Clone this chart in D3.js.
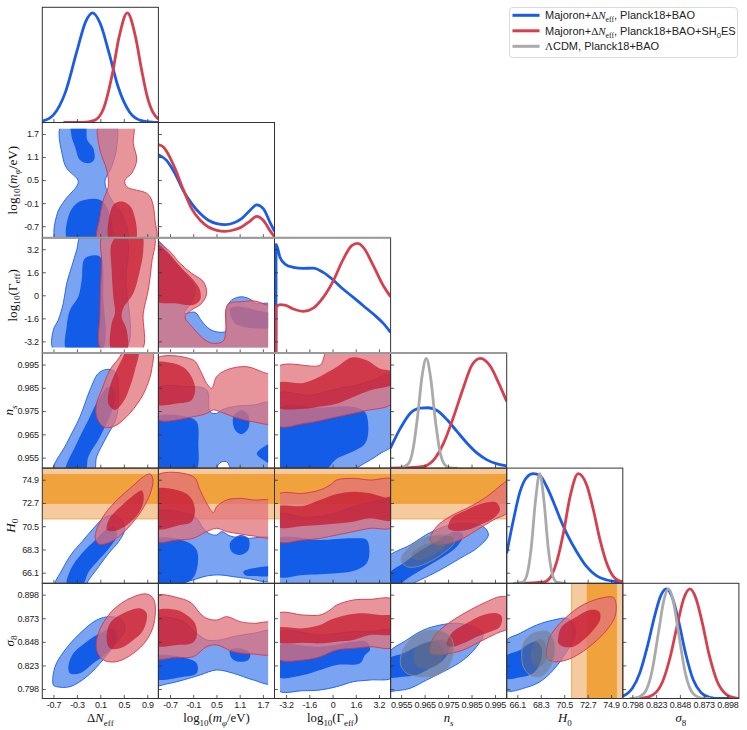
<!DOCTYPE html>
<html>
<head>
<meta charset="utf-8">
<script src="https://cdn.jsdelivr.net/npm/d3@7"></script>
<style>
	body { margin: 0; background: #fff; }
</style>
</head>
<body>
<div id="my_dataviz"></div>
<script>
// ---------------- parameters, ranges and ticks ----------------
const ranges = [[-0.89, 1.09], [-1, 2], [-4, 4], [0.9505, 1.0], [65.1, 76.0], [0.788, 0.91]];
// prior edges, the filled contours stop there
const priors = [[-0.89, 1.09], [-1, 1.835], [-3.62, 4], [0.9505, 1.0], [65.1, 76.0], [0.788, 0.91]];
const tickLabels = [
	["-0.7", "-0.3", "0.1", "0.5", "0.9"],
	["-0.7", "-0.1", "0.5", "1.1", "1.7"],
	["-3.2", "-1.6", "0", "1.6", "3.2"],
	["0.955", "0.965", "0.975", "0.985", "0.995"],
	["66.1", "68.3", "70.5", "72.7", "74.9"],
	["0.798", "0.823", "0.848", "0.873", "0.898"],
];
// SH0ES H0 bands (1 sigma, 2 sigma)
const shoes68 = [72.61, 75.45];
const shoes95 = [71.19, 76.87];

// ---------------- 1D marginals (x, normalised density) ----------------
const blue1D_DN = [[-0.89, 0.012], [-0.7, 0.069], [-0.5, 0.27], [-0.3, 0.65], [-0.15, 0.92], [-0.03, 1.0], [0.1, 0.9], [0.25, 0.63], [0.4, 0.33], [0.6, 0.094], [0.8, 0.017], [1.0, 0.002], [1.09, 0]];
const red1D_DN = [[-0.53, 0], [-0.2, 0.001], [0.0, 0.02], [0.15, 0.12], [0.3, 0.43], [0.42, 0.78], [0.56, 1.0], [0.7, 0.78], [0.8, 0.49], [0.9, 0.236], [1.0, 0.089], [1.09, 0.03]];
const blue1D_logm = [[-1.0, 0.757], [-0.79, 0.705], [-0.57, 0.584], [-0.36, 0.432], [-0.14, 0.311], [0.08, 0.22], [0.29, 0.159], [0.51, 0.128], [0.72, 0.119], [0.94, 0.134], [1.15, 0.174], [1.37, 0.25], [1.54, 0.3], [1.71, 0.265], [1.88, 0.143], [2.0, 0.058]];
const red1D_logm = [[-1.0, 0.849], [-0.87, 0.827], [-0.79, 0.787], [-0.57, 0.63], [-0.36, 0.441], [-0.14, 0.265], [0.08, 0.159], [0.29, 0.098], [0.51, 0.067], [0.72, 0.058], [0.94, 0.07], [1.15, 0.098], [1.37, 0.152], [1.54, 0.195], [1.71, 0.159], [1.88, 0.067], [2.0, 0.006]];
const blue1D_G = [[-3.9, 0], [-3.89, 0.99], [-3.62, 0.87], [-3.28, 0.81], [-2.7, 0.78], [-2.01, 0.77], [-1.33, 0.773], [-0.64, 0.734], [0.05, 0.664], [0.74, 0.58], [1.43, 0.506], [2.12, 0.43], [2.81, 0.354], [3.5, 0.269], [4.0, 0.187]];
const red1D_G = [[-3.9, 0], [-3.89, 0.415], [-3.62, 0.44], [-3.28, 0.436], [-2.7, 0.4], [-2.01, 0.378], [-1.33, 0.408], [-0.64, 0.506], [0.05, 0.657], [0.74, 0.855], [1.32, 0.977], [1.71, 0.998], [2.12, 0.962], [2.81, 0.795], [3.5, 0.612], [4.0, 0.512]];
const blue1D_ns = [[0.9504, 0.181], [0.9547, 0.364], [0.9589, 0.5], [0.9632, 0.546], [0.9665, 0.55], [0.9703, 0.525], [0.9746, 0.44], [0.9788, 0.334], [0.9831, 0.227], [0.9874, 0.136], [0.9916, 0.075], [0.9959, 0.038], [1.0, 0.02]];
const red1D_ns = [[0.9505, 0], [0.9589, 0.003], [0.9646, 0.015], [0.9689, 0.075], [0.9731, 0.227], [0.9774, 0.47], [0.9817, 0.744], [0.9852, 0.94], [0.9888, 1.0], [0.9931, 0.926], [0.9966, 0.774], [1.0, 0.607]];
const gray1D_ns = [[0.9545, 0], [0.958, 0.037], [0.96, 0.164], [0.962, 0.47], [0.964, 0.85], [0.9657, 1.0], [0.9675, 0.835], [0.9695, 0.45], [0.9715, 0.155], [0.9735, 0.034], [0.976, 0.002], [0.979, 0]];
const blue1D_H0 = [[65.1, 0.273], [65.73, 0.577], [66.35, 0.835], [66.98, 0.966], [67.6, 1.0], [68.23, 0.98], [68.86, 0.88], [69.48, 0.744], [70.1, 0.592], [70.73, 0.456], [71.67, 0.288], [72.61, 0.151], [73.55, 0.067], [74.49, 0.03], [75.43, 0.015], [76.0, 0.01]];
const red1D_H0 = [[66.3, 0], [68.54, 0.01], [69.17, 0.05], [69.8, 0.197], [70.42, 0.456], [71.05, 0.79], [71.82, 1.0], [72.61, 0.896], [73.24, 0.668], [73.86, 0.395], [74.49, 0.182], [75.12, 0.06], [75.74, 0.02], [76.0, 0.012]];
const gray1D_H0 = [[65.7, 0], [66.6, 0.011], [67.0, 0.077], [67.4, 0.32], [67.8, 0.75], [68.2, 1.0], [68.6, 0.75], [69.0, 0.32], [69.4, 0.077], [69.8, 0.011], [70.7, 0]];
const blue1D_s8 = [[0.788, 0.02], [0.798, 0.093], [0.806, 0.236], [0.814, 0.48], [0.822, 0.77], [0.828, 0.94], [0.834, 1.0], [0.84, 0.92], [0.846, 0.73], [0.854, 0.41], [0.862, 0.17], [0.87, 0.056], [0.88, 0.009], [0.89, 0], [0.91, 0]];
const red1D_s8 = [[0.8, 0], [0.81, 0.005], [0.82, 0.035], [0.83, 0.158], [0.838, 0.385], [0.846, 0.7], [0.852, 0.91], [0.8586, 1.0], [0.865, 0.91], [0.871, 0.71], [0.879, 0.39], [0.887, 0.16], [0.897, 0.036], [0.905, 0.008], [0.91, 0]];
const gray1D_s8 = [[0.795, 0], [0.8, 0.0025], [0.81, 0.044], [0.818, 0.22], [0.826, 0.63], [0.831, 0.89], [0.836, 1.0], [0.841, 0.89], [0.846, 0.63], [0.854, 0.22], [0.862, 0.044], [0.872, 0.0025], [0.88, 0]];

// ---------------- 2D contours (x, y) per panel, 95% and 68% ----------------
const DN_logm = {
	b95: [[[-0.559, 1.95], [0.35, 1.95], [0.379, 1.37], [0.293, 0.849], [0.179, 0.458], [0.293, -0.018], [0.491, -0.453], [0.549, -1.1], [-0.644, -1.1], [-0.634, -0.365], [-0.503, -0.018], [-0.276, 0.458], [-0.474, 0.807], [-0.542, 1.109]]],
	b68: [[[-0.389, 1.95], [-0.162, 1.95], [-0.123, 1.544], [-0.02, 1.328], [-0.008, 1.023], [-0.106, 0.937], [-0.247, 1.023], [-0.332, 1.37], [-0.389, 1.63]],
		[[-0.447, -1.1], [-0.447, -0.453], [-0.303, -0.104], [-0.077, 0.008], [0.094, -0.018], [0.208, -0.193], [0.29, -1.1]]],
	r95: [[[0.082, 1.95], [0.094, 1.284], [0.208, 0.763], [0.235, 0.328], [0.15, -0.018], [0.094, -0.453], [0.065, -1.1], [1.032, -1.1], [1.032, -0.539], [0.975, -0.018], [0.89, 0.156], [0.549, 0.328], [0.52, 0.503], [0.634, 0.677], [0.72, 1.023], [0.662, 1.458], [0.651, 1.95]]],
	r68: [[[0.264, -1.1], [0.264, -0.365], [0.35, -0.104], [0.491, -0.063], [0.634, -0.234], [0.691, -1.1]]],
};
const DN_G = {
	b95: [[[-0.218, 4.2], [0.52, 4.2], [0.537, 1.063], [0.52, -3.8], [-0.69, -3.8], [-0.702, -2.41], [-0.617, -1.715], [-0.532, -0.556], [-0.474, 0.833], [-0.389, 1.986], [-0.303, 3.146]]],
	b68: [[[-0.162, 2.569], [0.094, 2.681], [0.15, -0.097], [0.123, -3.8], [-0.474, -3.8], [-0.474, -2.18], [-0.418, -1.021], [-0.276, -0.097], [-0.218, 1.063]]],
	r95: [[[0.15, 4.2], [1.003, 4.2], [0.975, 2.22], [0.917, 0.368], [0.832, -1.25], [0.805, -3.8], [0.123, -3.8], [0.094, -1.25], [0.123, 2.22]]],
	r68: [[[0.293, 3.611], [0.435, 4.2], [0.805, 4.2], [0.832, 3.146], [0.776, 1.757], [0.662, 0.139], [0.491, -0.903], [0.464, -1.53], [0.549, -2.41], [0.549, -3.8], [0.293, -3.8], [0.293, -1.946], [0.35, -1.25], [0.321, -0.097], [0.293, 1.757]]],
};
const DN_ns = {
	b95: [[[-0.702, 0.949], [-0.475, 0.9611], [-0.247, 0.9726], [-0.077, 0.9841], [0.065, 0.9912], [0.208, 0.9929], [0.35, 0.9919], [0.406, 0.9855], [0.378, 0.9726], [0.208, 0.964], [0.037, 0.9554], [-0.02, 0.949]]],
	b68: [[[-0.486, 0.949], [-0.304, 0.9611], [-0.105, 0.9712], [0.094, 0.9812], [0.236, 0.9855], [0.35, 0.9841], [0.321, 0.9769], [0.094, 0.964], [-0.105, 0.9554], [-0.162, 0.949]]],
	r95: [[[0.037, 0.9726], [0.037, 0.9783], [0.122, 0.9841], [0.264, 0.9927], [0.435, 0.9984], [0.5, 1.0015], [0.975, 1.0015], [0.975, 0.9927], [0.89, 0.9855], [0.776, 0.9798], [0.549, 0.9726], [0.321, 0.9683], [0.151, 0.9683]]],
	r68: [[[0.236, 0.9783], [0.264, 0.9855], [0.35, 0.9912], [0.492, 0.9984], [0.549, 1.0015], [0.747, 1.0015], [0.691, 0.9927], [0.605, 0.9855], [0.492, 0.979], [0.35, 0.9755]]],
};
const DN_H0 = {
	b95: [[[-0.668, 64.9], [-0.554, 66.36], [-0.384, 67.94], [-0.213, 69.04], [-0.043, 70.14], [0.156, 71.25], [0.327, 71.56], [0.469, 71.09], [0.514, 70.14], [0.412, 69.04], [0.242, 67.94], [0.071, 66.67], [-0.099, 65.41], [-0.156, 64.9]]],
	b68: [[[-0.469, 64.9], [-0.412, 66.36], [-0.213, 67.94], [0.014, 69.2], [0.185, 70.14], [0.327, 70.46], [0.384, 69.67], [0.27, 68.57], [0.071, 67.31], [-0.099, 66.2], [-0.213, 64.9]]],
	r95: [[[0.014, 69.36], [0.043, 70.3], [0.185, 71.72], [0.412, 73.14], [0.639, 74.24], [0.838, 75.19], [0.952, 75.44], [0.997, 74.87], [0.952, 73.61], [0.81, 72.04], [0.639, 70.77], [0.412, 69.51], [0.213, 68.88], [0.071, 68.82]]],
	r68: [[[0.213, 70.14], [0.242, 71.09], [0.412, 72.19], [0.639, 73.3], [0.81, 73.86], [0.838, 72.98], [0.753, 71.72], [0.554, 70.62], [0.355, 70.08]]],
};
const DN_s8 = {
	b95: [[[-0.702, 0.8023], [-0.673, 0.8217], [-0.503, 0.8394], [-0.247, 0.857], [0.037, 0.8711], [0.264, 0.8747], [0.463, 0.8711], [0.52, 0.8605], [0.321, 0.8429], [0.094, 0.8253], [-0.133, 0.8111], [-0.418, 0.8005], [-0.645, 0.8005]]],
	b68: [[[-0.446, 0.8217], [-0.361, 0.8358], [-0.133, 0.8482], [0.094, 0.857], [0.321, 0.8623], [0.378, 0.85], [0.208, 0.8358], [-0.02, 0.8253], [-0.247, 0.8147], [-0.418, 0.8147]]],
	r95: [[[0.037, 0.8394], [0.065, 0.857], [0.264, 0.8782], [0.549, 0.8923], [0.89, 0.8987], [1.015, 0.8923], [1.015, 0.8676], [0.89, 0.85], [0.662, 0.8358], [0.378, 0.827], [0.151, 0.8288]]],
	r68: [[[0.208, 0.85], [0.264, 0.8676], [0.492, 0.8782], [0.776, 0.8835], [0.89, 0.8782], [0.833, 0.8605], [0.662, 0.85], [0.435, 0.8411], [0.264, 0.8411]]],
};
const logm_G = {
	b95: [[[-1.1, 3.9], [-0.571, 2.34], [-0.227, 1.18], [-0.054, 0.48], [-0.14, -0.44], [-0.33, -1.25], [-0.054, -1.18], [0.118, -1.79], [0.333, -2.36], [0.592, -2.57], [0.738, -2.48], [0.764, -0.91], [0.893, -0.33], [1.152, -0.1], [1.41, -0.33], [1.496, -0.56], [1.95, -0.67], [1.95, -3.8], [-1.1, -3.8]]],
	b68: [[[0.85, -0.91], [1.152, -0.79], [1.496, -1.02], [1.95, -1.37], [1.95, -2.18], [1.324, -2.25], [0.979, -1.95], [0.876, -1.48]]],
	r95: [[[-1.1, 3.68], [-0.743, 3.15], [-0.442, 2.22], [-0.14, 1.53], [0.161, 0.95], [0.247, 0.14], [0.118, -0.56], [-0.14, -1.02], [-0.313, -1.48], [-0.097, -2.29], [0.204, -3.1], [0.42, -3.34], [0.678, -3.17], [0.738, -2.53], [0.747, -0.91], [0.824, -0.56], [1.152, -0.44], [1.496, -0.4], [1.798, -0.67], [1.95, -0.79], [1.95, -3.8], [-1.1, -3.8]]],
	r68: [[[-1.1, 3.61], [-0.743, 2.92], [-0.399, 1.87], [-0.097, 1.06], [0.075, 0.37], [0.075, -0.33], [-0.097, -0.67], [-0.571, -0.56], [-1.1, -0.33]]],
};
const logm_ns = {
	b95: [[[-1.1, 0.9841], [-0.27, 0.9855], [0.247, 0.9841], [0.333, 0.9747], [0.506, 0.974], [0.635, 0.9755], [0.936, 0.9769], [1.453, 0.9776], [1.95, 0.9783], [1.95, 0.949], [0.936, 0.949], [0.764, 0.9532], [0.592, 0.9528], [0.42, 0.949], [-1.1, 0.949]]],
	b68: [[[-1.1, 0.9719], [-0.27, 0.9726], [-0.011, 0.9704], [0.032, 0.9611], [-0.054, 0.949], [-1.1, 0.949]],
		[[0.936, 0.9726], [1.152, 0.9755], [1.324, 0.9733], [1.324, 0.9676], [1.152, 0.9651], [0.979, 0.9669]],
		[[1.95, 0.9611], [1.539, 0.9568], [1.711, 0.954], [1.95, 0.9525]]],
	r95: [[[-1.1, 0.9972], [-0.097, 0.9969], [0.075, 0.9927], [0.247, 0.9869], [0.376, 0.9848], [0.506, 0.9898], [0.764, 0.9927], [1.281, 0.9941], [1.797, 0.9912], [1.95, 0.9912], [1.95, 0.97], [1.453, 0.9704], [0.936, 0.9726], [0.592, 0.9747], [0.42, 0.9755], [0.247, 0.974], [-0.097, 0.9726], [-1.1, 0.9719]]],
	r68: [[[-1.1, 0.9955], [-0.614, 0.9955], [-0.27, 0.9927], [-0.054, 0.9855], [-0.14, 0.9798], [-0.528, 0.9783], [-1.1, 0.9783]]],
};
const logm_H0 = {
	b95: [[[-1.1, 71.72], [-0.27, 71.72], [-0.011, 71.25], [0.161, 70.3], [0.333, 69.77], [0.506, 69.67], [0.635, 69.99], [0.85, 69.58], [1.281, 69.36], [1.95, 69.27], [1.95, 65.41], [1.281, 65.57], [0.936, 65.73], [0.592, 65.89], [0.247, 65.79], [-0.27, 65.25], [-1.1, 64.9]]],
	b68: [[[-1.1, 69.2], [-0.27, 69.04], [-0.011, 68.25], [-0.011, 66.36], [-0.183, 65.35], [-1.1, 64.9]],
		[[0.85, 68.88], [1.109, 69.67], [1.324, 69.36], [1.324, 68.25], [1.109, 67.78], [0.893, 68.09]],
		[[1.195, 66.2], [1.453, 66.52], [1.95, 66.61], [1.95, 65.89], [1.453, 65.79], [1.238, 65.89]]],
	r95: [[[-1.1, 75.19], [-0.097, 75.19], [0.075, 73.93], [0.247, 72.67], [0.42, 71.78], [0.506, 72.35], [0.764, 72.98], [1.109, 73.14], [1.453, 72.98], [1.95, 72.82], [1.95, 69.51], [1.453, 69.58], [1.109, 69.77], [0.764, 69.99], [0.506, 70.3], [0.247, 69.99], [-0.097, 69.36], [-0.528, 69.2], [-1.1, 69.13]]],
	r68: [[[-1.1, 73.93], [-0.528, 73.93], [-0.183, 73.3], [-0.054, 72.04], [-0.14, 70.93], [-0.442, 70.62], [-1.1, 70.3]]],
};
const logm_s8 = {
	b95: [[[-1.1, 0.8711], [-0.442, 0.8711], [-0.011, 0.857], [0.247, 0.85], [0.592, 0.85], [0.936, 0.8535], [1.453, 0.857], [1.95, 0.8588], [1.95, 0.8041], [1.453, 0.8076], [0.936, 0.8147], [0.506, 0.8182], [0.075, 0.8129], [-0.356, 0.8076], [-0.786, 0.8034], [-1.1, 0.8023]]],
	b68: [[[-1.1, 0.8323], [-0.27, 0.8305], [-0.011, 0.8253], [-0.011, 0.8147], [-0.356, 0.8111], [-1.1, 0.8094]],
		[[0.85, 0.8394], [1.109, 0.8411], [1.367, 0.8358], [1.324, 0.8288], [1.065, 0.827], [0.893, 0.8305]]],
	r95: [[[-1.1, 0.8958], [-0.442, 0.8941], [-0.14, 0.8888], [0.075, 0.8782], [0.247, 0.8729], [0.506, 0.8711], [0.764, 0.8747], [1.109, 0.8694], [1.453, 0.8676], [1.95, 0.8676], [1.95, 0.8358], [1.453, 0.8351], [0.936, 0.8376], [0.506, 0.8447], [0.247, 0.8429], [-0.097, 0.8323], [-0.528, 0.8316], [-1.1, 0.8316]]],
	r68: [[[-1.1, 0.88], [-0.528, 0.8817], [-0.27, 0.8764], [-0.054, 0.8676], [-0.011, 0.8535], [-0.14, 0.8464], [-0.528, 0.8447], [-1.1, 0.8447]]],
};
const G_ns = {
	b95: [[[-3.8, 0.9822], [-1.553, 0.9818], [0.285, 0.9846], [1.663, 0.9861], [2.582, 0.9879], [4.2, 0.9904], [4.2, 0.961], [3.271, 0.9567], [2.352, 0.9531], [0.974, 0.949], [-3.8, 0.949]]],
	b68: [[[-3.8, 0.976], [-0.864, 0.9765], [1.433, 0.9768], [2.237, 0.9746], [2.467, 0.9667], [2.237, 0.961], [1.548, 0.9581], [0.285, 0.9545], [-0.635, 0.949], [-3.8, 0.949]]],
	r95: [[[-3.8, 0.9939], [-0.864, 0.9947], [-0.589, 0.9982], [-0.359, 1.0015], [4.2, 1.0015], [4.2, 0.9789], [2.122, 0.975], [0.285, 0.9725], [-2.013, 0.9696], [-3.8, 0.9689]]],
	r68: [[[-3.8, 0.9868], [-2.013, 0.9871], [-0.864, 0.9899], [0.285, 0.9939], [1.318, 0.998], [2.352, 0.9968], [3.271, 0.9932], [4.2, 0.9918], [4.2, 0.9868], [2.582, 0.9839], [1.433, 0.981], [0.285, 0.9782], [-0.864, 0.977], [-2.013, 0.976], [-3.8, 0.9768]]],
};
const G_H0 = {
	b95: [[[-3.8, 71.56], [-2.013, 71.34], [-0.635, 71.47], [0.285, 71.78], [1.433, 72.35], [2.582, 72.73], [4.2, 72.92], [4.2, 64.9], [-3.8, 64.9]]],
	b68: [[[-3.8, 69.26], [-0.864, 69.2], [1.433, 69.36], [2.352, 69.2], [2.536, 67.94], [2.352, 66.99], [1.663, 66.36], [0.285, 66.04], [-2.013, 65.89], [-3.8, 65.79]]],
	r95: [[[-3.8, 73.46], [-2.013, 73.61], [-0.864, 73.93], [-0.175, 74.4], [0.285, 74.87], [1.433, 75.03], [2.582, 74.87], [4.2, 74.87], [4.2, 70.46], [2.582, 70.3], [1.433, 69.99], [0.285, 69.67], [-0.864, 69.36], [-2.013, 69.2], [-3.8, 69.13]]],
	r68: [[[-3.8, 72.29], [-2.013, 72.41], [-0.864, 72.98], [0.285, 73.55], [1.433, 73.77], [2.582, 73.61], [3.616, 73.23], [4.2, 73.3], [4.2, 71.09], [2.582, 71.25], [1.433, 70.93], [0.285, 70.77], [-0.864, 70.62], [-2.013, 70.52], [-3.8, 70.46]]],
};
const G_s8 = {
	b95: [[[-3.8, 0.857], [-0.864, 0.8552], [0.285, 0.857], [1.433, 0.8588], [2.582, 0.859], [4.2, 0.859], [4.2, 0.8111], [2.582, 0.8076], [1.433, 0.8058], [0.285, 0.8005], [-0.864, 0.797], [-2.013, 0.7963], [-3.8, 0.797]]],
	b68: [[[-3.8, 0.8429], [-0.864, 0.8429], [1.433, 0.8482], [2.352, 0.8482], [2.582, 0.8394], [2.237, 0.8341], [1.893, 0.8253], [0.285, 0.8235], [-0.864, 0.8182], [-2.013, 0.8129], [-3.8, 0.8111]]],
	r95: [[[-3.8, 0.8775], [-2.013, 0.8764], [-0.864, 0.8764], [-0.175, 0.8817], [0.285, 0.887], [1.433, 0.8923], [2.582, 0.893], [4.2, 0.8923], [4.2, 0.8429], [2.582, 0.8429], [1.433, 0.8411], [0.285, 0.8394], [-0.864, 0.8323], [-2.013, 0.8288], [-3.8, 0.8305]]],
	r68: [[[-3.8, 0.8623], [-2.013, 0.8623], [-0.864, 0.8658], [-0.175, 0.8711], [0.974, 0.8764], [2.122, 0.8782], [3.271, 0.8764], [4.2, 0.8747], [4.2, 0.857], [2.582, 0.8552], [1.433, 0.85], [0.285, 0.8482], [-0.864, 0.8464], [-2.013, 0.8471], [-3.8, 0.8482]]],
};
const ns_H0 = {
	b95: [[[0.949, 67.46], [0.9588, 68.72], [0.9673, 69.89], [0.9758, 70.62], [0.9829, 70.77], [0.99, 70.46], [0.9922, 69.67], [0.9872, 68.41], [0.9801, 67.46], [0.9716, 66.36], [0.963, 65.41], [0.9574, 64.9], [0.949, 64.9]]],
	b68: [[[0.949, 65.89], [0.9559, 66.99], [0.9616, 67.94], [0.9687, 68.88], [0.9744, 69.67], [0.9787, 69.99], [0.9815, 69.67], [0.9787, 68.57], [0.973, 67.62], [0.9659, 66.67], [0.9588, 65.73], [0.9531, 64.9], [0.949, 64.9]]],
	r95: [[[0.9673, 69.2], [0.9701, 70.46], [0.9758, 71.41], [0.9844, 72.35], [0.9915, 73.3], [0.9986, 74.56], [1.0015, 75.03], [1.0015, 72.04], [0.9943, 71.09], [0.9872, 70.14], [0.9815, 69.36], [0.9758, 68.88], [0.9701, 68.72]]],
	r68: [[[0.9751, 70.3], [0.9765, 71.25], [0.9829, 72.04], [0.99, 72.67], [0.9957, 72.73], [0.9971, 72.04], [0.9943, 71.25], [0.9886, 70.62], [0.9829, 70.14], [0.9772, 70.08]]],
	g95: [[[0.9552, 67.62], [0.9588, 68.57], [0.9645, 69.36], [0.9716, 69.67], [0.9772, 69.51], [0.9775, 68.88], [0.973, 67.94], [0.9673, 67.15], [0.9616, 66.67], [0.9574, 66.67], [0.9552, 67.15]]],
	g68: [[[0.9595, 67.78], [0.963, 68.51], [0.9687, 68.95], [0.973, 69.04], [0.9737, 68.51], [0.9701, 67.94], [0.9645, 67.37], [0.9609, 67.31]]],
};
const ns_s8 = {
	b95: [[[0.949, 0.8341], [0.9574, 0.85], [0.9645, 0.8605], [0.9716, 0.8658], [0.9787, 0.8676], [0.9858, 0.8641], [0.99, 0.857], [0.9872, 0.8429], [0.9815, 0.8288], [0.9744, 0.8182], [0.9659, 0.8076], [0.9588, 0.7988], [0.9531, 0.7963], [0.949, 0.7963]]],
	b68: [[[0.949, 0.8288], [0.9559, 0.8358], [0.9616, 0.8429], [0.9673, 0.8482], [0.973, 0.85], [0.9758, 0.8429], [0.973, 0.8288], [0.9673, 0.82], [0.9616, 0.8129], [0.9559, 0.8111], [0.949, 0.8111]]],
	r95: [[[0.9673, 0.8429], [0.9701, 0.857], [0.9772, 0.8711], [0.9844, 0.8817], [0.9915, 0.8905], [0.9971, 0.8958], [1.0015, 0.8941], [1.0015, 0.8641], [0.9957, 0.857], [0.9886, 0.8482], [0.9815, 0.8394], [0.9758, 0.8358], [0.9701, 0.8341], [0.9676, 0.8358]]],
	r68: [[[0.9744, 0.8447], [0.9765, 0.857], [0.9829, 0.8676], [0.99, 0.8764], [0.9957, 0.8782], [0.9979, 0.8747], [0.9971, 0.8641], [0.9929, 0.8588], [0.9872, 0.8535], [0.9815, 0.8464], [0.9772, 0.8429]]],
	g95: [[[0.9552, 0.8358], [0.9588, 0.85], [0.9645, 0.8588], [0.9716, 0.8598], [0.9765, 0.8517], [0.9772, 0.8358], [0.9751, 0.8217], [0.9701, 0.8129], [0.9637, 0.8111], [0.9574, 0.8147], [0.9548, 0.8235]]],
	g68: [[[0.9602, 0.8288], [0.9616, 0.8429], [0.9659, 0.8482], [0.9708, 0.8471], [0.973, 0.8376], [0.9716, 0.8253], [0.9673, 0.82], [0.9623, 0.821]]],
};
const H0_s8 = {
	b95: [[[65.0, 0.8482], [66.35, 0.857], [67.91, 0.8658], [69.48, 0.8711], [70.73, 0.8729], [71.36, 0.8676], [71.51, 0.8535], [70.73, 0.8376], [69.48, 0.8182], [68.23, 0.8058], [66.98, 0.7998], [65.0, 0.797]]],
	b68: [[[65.0, 0.8323], [66.35, 0.8394], [67.29, 0.8464], [67.91, 0.8482], [68.38, 0.8411], [68.23, 0.8253], [67.6, 0.8147], [66.35, 0.8104], [65.0, 0.8094]]],
	r95: [[[68.85, 0.8394], [69.17, 0.8535], [70.1, 0.8676], [71.98, 0.8853], [73.86, 0.8941], [75.11, 0.8951], [75.36, 0.8888], [75.27, 0.8747], [74.49, 0.8605], [73.24, 0.8464], [71.98, 0.8358], [70.73, 0.8288], [69.48, 0.827], [68.92, 0.8305]]],
	r68: [[[69.95, 0.8535], [70.26, 0.8641], [71.67, 0.8747], [72.92, 0.8817], [73.8, 0.88], [73.86, 0.8711], [73.24, 0.8605], [72.3, 0.85], [71.36, 0.8429], [70.42, 0.8429], [69.95, 0.8464]]],
	g95: [[[66.66, 0.8464], [67.29, 0.8552], [68.07, 0.8588], [69.01, 0.8588], [69.54, 0.8482], [69.54, 0.8323], [69.01, 0.8182], [68.23, 0.8111], [67.29, 0.8129], [66.66, 0.8217], [66.51, 0.8341]]],
	g68: [[[67.44, 0.8411], [67.91, 0.85], [68.54, 0.85], [68.85, 0.8394], [68.7, 0.827], [68.23, 0.8217], [67.6, 0.8245], [67.35, 0.8323]]],
};

function main() {
	const x0 = 42.3, y0 = 7.3, W = 116.1, H = 115.2;
	const blue = "#1a5ce6", red = "#d6404e", gray = "#aaaaaa";
	const sans = "Liberation Sans, Arial, sans-serif";
	const serif = "Liberation Serif, DejaVu Serif, serif";

	const svg = d3
		.select("#my_dataviz")
		.append("svg")
		.attr("width", 747)
		.attr("height", 730);
	const defs = svg.append("defs");

	const xScale = (j) => d3.scaleLinear().domain(ranges[j]).range([x0 + j * W, x0 + (j + 1) * W]);
	const yScale = (i) => d3.scaleLinear().domain(ranges[i]).range([y0 + (i + 1) * H, y0 + i * H]);
	const densScale = (i) => d3.scaleLinear().domain([0, 1.05]).range([y0 + (i + 1) * H, y0 + i * H]);

	// clip paths, one for the panel and one for panel & prior box
	function addClip(id, xa, xb, ya, yb) {
		defs.append("clipPath").attr("id", id)
			.append("rect")
			.attr("x", Math.min(xa, xb)).attr("y", Math.min(ya, yb))
			.attr("width", Math.abs(xb - xa)).attr("height", Math.abs(yb - ya));
	}

	// ---------------- 2D panels ----------------
	const panels2d = [
		{ i: 1, j: 0, d: DN_logm }, { i: 2, j: 0, d: DN_G }, { i: 3, j: 0, d: DN_ns },
		{ i: 4, j: 0, d: DN_H0 }, { i: 5, j: 0, d: DN_s8 }, { i: 2, j: 1, d: logm_G },
		{ i: 3, j: 1, d: logm_ns }, { i: 4, j: 1, d: logm_H0 }, { i: 5, j: 1, d: logm_s8 },
		{ i: 3, j: 2, d: G_ns }, { i: 4, j: 2, d: G_H0 }, { i: 5, j: 2, d: G_s8 },
		{ i: 4, j: 3, d: ns_H0 }, { i: 5, j: 3, d: ns_s8 }, { i: 5, j: 4, d: H0_s8 },
	];
	const levelStyle = {
		b95: { fill: "#0050e6", op: 0.52, stroke: "#1a5ee8" },
		b68: { fill: "#0050e6", op: 0.85 },
		r95: { fill: "#e0707a", op: 0.75, stroke: "#d43848" },
		r68: { fill: "#c41228", op: 0.7 },
		g95: { fill: "#6e6e78", op: 0.45, stroke: "#8c8c8c" },
		g68: { fill: "#6e6e78", op: 0.45 },
	};

	panels2d.forEach((p) => {
		const xs = xScale(p.j), ys = yScale(p.i);
		const id = `c${p.i}${p.j}`;
		addClip(id + "p", xs(ranges[p.j][0]), xs(ranges[p.j][1]), ys(ranges[p.i][0]), ys(ranges[p.i][1]));
		addClip(id + "q", xs(priors[p.j][0]), xs(priors[p.j][1]), ys(priors[p.i][0]), ys(priors[p.i][1]));
		const g = svg.append("g").attr("clip-path", `url(#${id}p)`);

		// SH0ES band underneath the contours
		if (p.i === 4 || p.j === 4) {
			const bands = [[shoes95, "#f6ca9f"], [shoes68, "#f0a33d"]];
			bands.forEach(([b, c]) => {
				if (p.i === 4) {
					g.append("rect").attr("x", xs.range()[0]).attr("width", W)
						.attr("y", ys(b[1])).attr("height", ys(b[0]) - ys(b[1])).attr("fill", c);
				} else {
					g.append("rect").attr("y", ys.range()[1]).attr("height", H)
						.attr("x", xs(b[0])).attr("width", xs(b[1]) - xs(b[0])).attr("fill", c);
				}
			});
			if (p.i === 4) {
				g.append("line").attr("x1", xs.range()[0]).attr("x2", xs.range()[1])
					.attr("y1", ys(shoes95[0])).attr("y2", ys(shoes95[0]))
					.attr("stroke", "#f0a030").attr("stroke-width", 0.8);
			} else {
				g.append("line").attr("y1", ys.range()[0]).attr("y2", ys.range()[1])
					.attr("x1", xs(shoes95[0])).attr("x2", xs(shoes95[0]))
					.attr("stroke", "#f0a030").attr("stroke-width", 0.8);
			}
		}

		const line = d3.line()
			.x((d) => xs(d[0]))
			.y((d) => ys(d[1]))
			.curve(d3.curveCatmullRomClosed.alpha(0.5));
		const gc = g.append("g").attr("clip-path", `url(#${id}q)`);
		["b95", "b68", "r95", "r68", "g95", "g68"].forEach((k) => {
			if (!p.d[k]) return;
			const st = levelStyle[k];
			gc.append("path")
				.attr("d", p.d[k].map((poly) => line(poly)).join(""))
				.attr("fill", st.fill)
				.attr("fill-opacity", st.op)
				.attr("stroke", st.stroke || "none")
				.attr("stroke-width", 0.9);
		});
	});

	// ---------------- 1D panels ----------------
	const panels1d = [
		[[blue1D_DN, blue], [red1D_DN, red]],
		[[blue1D_logm, blue], [red1D_logm, red]],
		[[blue1D_G, blue], [red1D_G, red]],
		[[blue1D_ns, blue], [red1D_ns, red], [gray1D_ns, gray]],
		[[blue1D_H0, blue], [red1D_H0, red], [gray1D_H0, gray]],
		[[blue1D_s8, blue], [red1D_s8, red], [gray1D_s8, gray]],
	];
	panels1d.forEach((curves, i) => {
		const xs = xScale(i), ds = densScale(i);
		const id = `d${i}`;
		addClip(id, xs.range()[0], xs.range()[1], ds.range()[0], ds.range()[1]);
		const g = svg.append("g").attr("clip-path", `url(#${id})`);
		const line = d3.line()
			.x((d) => xs(d[0]))
			.y((d) => ds(d[1]))
			.curve(d3.curveMonotoneX);
		curves.forEach(([data, color]) => {
			g.append("path")
				.datum(data)
				.attr("d", line)
				.attr("fill", "none")
				.attr("stroke", color)
				.attr("stroke-width", 2.8);
		});
	});

	// ---------------- frames, ticks, tick labels ----------------
	const styleAxis = (a) => {
		a.select(".domain").remove();
		a.selectAll("line").attr("stroke", "#333").attr("stroke-width", 0.8);
		a.selectAll("text")
			.attr("font-family", sans)
			.attr("font-size", 9)
			.attr("letter-spacing", -0.25)
			.attr("fill", "#222");
	};
	for (let i = 0; i < 6; i++) {
		for (let j = 0; j <= i; j++) {
			const xs = xScale(j), ys = yScale(i);
			// bottom axis
			svg.append("g")
				.attr("transform", `translate(0,${y0 + (i + 1) * H})`)
				.call(
					d3.axisBottom(xs)
						.tickValues(tickLabels[j].map(Number))
						.tickSize(-3.5)
						.tickPadding(3.5)
						.tickFormat((d, k) => (i === 5 ? tickLabels[j][k] : ""))
				)
				.call(styleAxis);
			// left axis
			if (i > 0) {
				svg.append("g")
					.attr("transform", `translate(${x0 + j * W},0)`)
					.call(
						d3.axisLeft(ys)
							.tickValues(tickLabels[i].map(Number))
							.tickSize(-3.5)
							.tickPadding(3.5)
							.tickFormat((d, k) => (j === 0 ? tickLabels[i][k] : ""))
					)
					.call(styleAxis);
			}
			svg.append("rect")
				.attr("x", x0 + j * W)
				.attr("y", y0 + i * H)
				.attr("width", W)
				.attr("height", H)
				.attr("fill", "none")
				.attr("stroke", "#333")
				.attr("stroke-width", 1);
		}
	}
	// grey edge lines on top of rows 2 and 3
	[2, 3].forEach((r) => {
		svg.append("line")
			.attr("x1", x0).attr("x2", x0 + (r + 1) * W)
			.attr("y1", y0 + r * H).attr("y2", y0 + r * H)
			.attr("stroke", "#9a9a9a").attr("stroke-width", 2);
	});

	// ---------------- axis titles ----------------
	function mathText(sel, parts, size) {
		let sub = false;
		parts.forEach(([t, k, fam]) => {
			const isSub = k === "s" || k === "si";
			const ts = sel.append("tspan").text(t);
			if (isSub && !sub) ts.attr("dy", size * 0.28);
			if (!isSub && sub) ts.attr("dy", -size * 0.28);
			ts.attr("font-size", isSub ? size * 0.7 : size)
				.attr("font-style", k === "i" || k === "si" ? "italic" : "normal");
			if (fam) ts.attr("font-family", fam);
			sub = isSub;
		});
	}
	const labels = [
		[["Δ", "r"], ["N", "i"], ["eff", "s"]],
		[["log", "r"], ["10", "s"], ["(", "r"], ["m", "i"], ["φ", "si"], ["/eV)", "r"]],
		[["log", "r"], ["10", "s"], ["(Γ", "r"], ["eff", "s"], [")", "r"]],
		[["n", "i"], ["s", "si"]],
		[["H", "i"], ["0", "s"]],
		[["σ", "i"], ["8", "s"]],
	];
	const ylabX = [0, 16.5, 16.5, 13, 14.5, 13.5];
	labels.forEach((parts, k) => {
		const t = svg.append("text")
			.attr("x", x0 + (k + 0.5) * W)
			.attr("y", 722)
			.attr("text-anchor", "middle")
			.attr("font-family", serif)
			.attr("fill", "#111");
		mathText(t, parts, 12.8);
		if (k > 0) {
			const cy = y0 + (k + 0.5) * H;
			const ty = svg.append("text")
				.attr("transform", `translate(${ylabX[k]},${cy}) rotate(-90)`)
				.attr("text-anchor", "middle")
				.attr("font-family", serif)
				.attr("fill", "#111");
			mathText(ty, parts, 13.2);
		}
	});

	// ---------------- legend ----------------
	const legend = svg.append("g");
	legend.append("rect")
		.attr("x", 509.5).attr("y", 7.5).attr("width", 228).attr("height", 50)
		.attr("rx", 3).attr("fill", "#fff").attr("stroke", "#d0d0d0").attr("stroke-width", 0.8);
	const legendItems = [
		[blue, [["Majoron+", "r"], ["Δ", "r", serif], ["N", "i", serif], ["eff", "s", serif], [", Planck18+BAO", "r"]]],
		[red, [["Majoron+", "r"], ["Δ", "r", serif], ["N", "i", serif], ["eff", "s", serif], [", Planck18+BAO+SH", "r"], ["0", "s"], ["ES", "r"]]],
		[gray, [["Λ", "r", serif], ["CDM, Planck18+BAO", "r"]]],
	];
	legendItems.forEach(([c, parts], k) => {
		const yy = 15.3 + k * 15.5;
		legend.append("line")
			.attr("x1", 512.5).attr("x2", 539.5).attr("y1", yy).attr("y2", yy)
			.attr("stroke", c).attr("stroke-width", 3);
		const t = legend.append("text")
			.attr("x", 545).attr("y", yy + 4)
			.attr("font-family", sans)
			.attr("fill", "#222");
		mathText(t, parts, 11);
	});
}

main();
</script>
</body>
</html>
